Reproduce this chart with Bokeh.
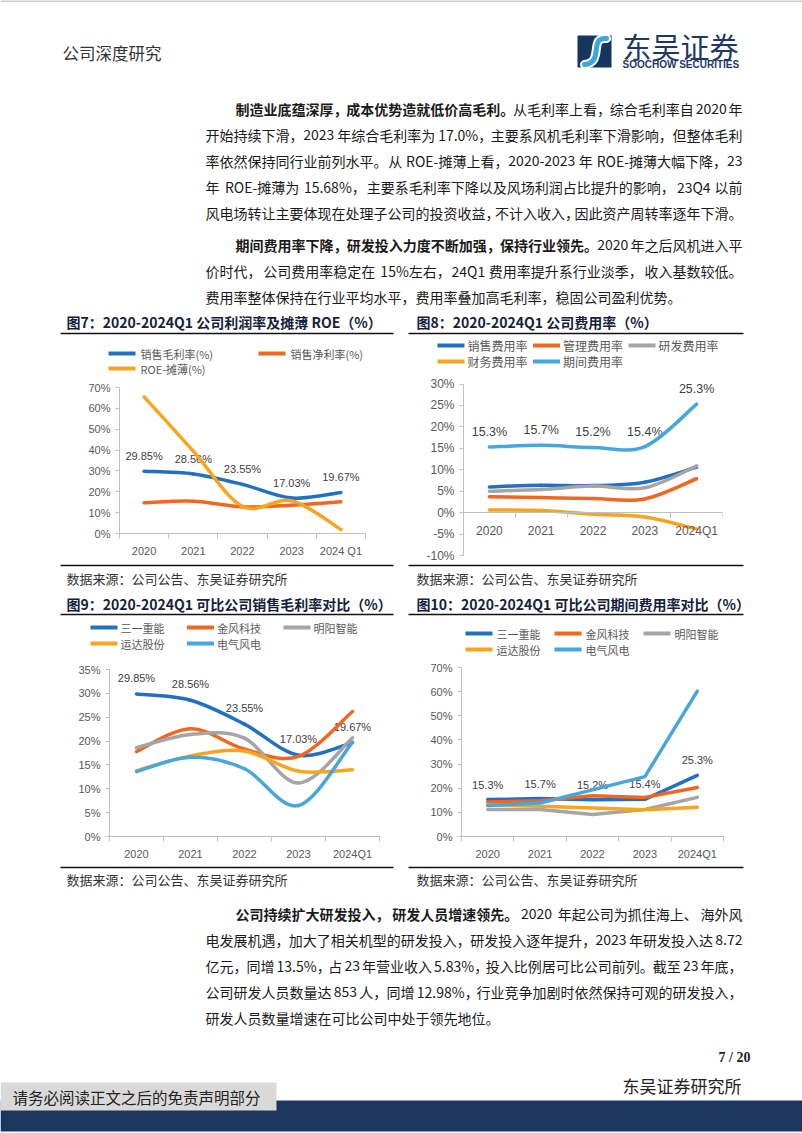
from bokeh.plotting import figure
from bokeh.layouts import column, row
from bokeh.models import Range1d, FixedTicker, PrintfTickFormatter, ColumnDataSource
from bokeh.core.properties import value
from bokeh.embed import file_html
from bokeh.resources import INLINE

CJK = "Noto Sans CJK SC"
SANS = "Liberation Sans"
SERIF = "Liberation Serif"

BLUE = "#2170c2"
ORANGE = "#f2661f"
GRAY = "#a5a5a5"
AMBER = "#f8a41c"
LBLUE = "#47a7dd"
AXIS = "#bfbfbf"
TICKC = "#595959"
NAVY = "#17365d"
TITLE_C = "#14213d"

# ------------------------------------------------------------------ data
years7 = ["2020", "2021", "2022", "2023", "2024 Q1"]
years = ["2020", "2021", "2022", "2023", "2024Q1"]

# Fig 7
fig7_names = ["销售毛利率(%)", "销售净利率(%)", "ROE-摊薄(%)"]
gross_margin = [29.85, 28.56, 23.55, 17.03, 19.67]
net_margin = [14.7, 15.5, 12.8, 13.6, 15.2]
roe_diluted = [65.5, 39.5, 13.0, 15.68, 1.9]
fig7_yticks = [0, 10, 20, 30, 40, 50, 60, 70]

# Fig 8
fig8_names = ["销售费用率", "管理费用率", "研发费用率", "财务费用率", "期间费用率"]
sales_exp = [6.0, 6.4, 6.3, 7.1, 10.6]
admin_exp = [3.7, 3.5, 3.3, 3.2, 7.9]
rd_exp = [5.0, 5.4, 6.2, 5.8, 10.9]
fin_exp = [0.6, 0.5, -0.4, -1.0, -3.8]
period_exp = [15.3, 15.7, 15.2, 15.4, 25.3]
fig8_yticks = [-10, -5, 0, 5, 10, 15, 20, 25, 30]

# Fig 9 / Fig 10
peers = ["三一重能", "金风科技", "明阳智能", "运达股份", "电气风电"]
gm_sany = [29.85, 28.56, 23.55, 17.03, 19.67]
gm_goldwind = [17.8, 22.6, 18.3, 16.8, 26.2]
gm_mingyang = [18.6, 21.4, 20.6, 11.2, 20.7]
gm_windey = [13.8, 16.9, 17.9, 13.7, 14.0]
gm_shanghai = [13.6, 16.6, 14.2, 6.5, 19.8]
fig9_yticks = [0, 5, 10, 15, 20, 25, 30, 35]

ex_sany = [15.3, 15.7, 15.2, 15.4, 25.3]
ex_goldwind = [14.3, 14.8, 16.9, 16.2, 20.3]
ex_mingyang = [11.2, 11.2, 9.1, 11.2, 16.2]
ex_windey = [13.2, 12.5, 11.8, 11.1, 12.1]
ex_shanghai = [12.8, 13.9, 19.3, 24.8, 60.2]
fig10_yticks = [0, 10, 20, 30, 40, 50, 60, 70]

PEER_COLORS = [BLUE, ORANGE, GRAY, AMBER, LBLUE]
FIG8_COLORS = [BLUE, ORANGE, GRAY, AMBER, LBLUE]
FIG7_COLORS = [BLUE, ORANGE, AMBER]

W = 802
H = 1133
SPLIT = 405


def no_align(p):
    try:
        p.frame_align = False
    except Exception:
        pass
    return p


# ------------------------------------------------------------------ text helpers
class TextBatch:
    def __init__(self):
        self.groups = {}

    def add(self, x, y, s, size, color="#1a1a1a", font=CJK, bold=False, align="left"):
        key = (font, size, color, bold, align)
        g = self.groups.setdefault(key, {"x": [], "y": [], "text": []})
        g["x"].append(x)
        g["y"].append(y)
        g["text"].append(s)

    def render(self, p):
        for (font, size, color, bold, align), g in self.groups.items():
            p.text(x="x", y="y", text="text", source=ColumnDataSource(g),
                   text_font=value(font), text_font_size=value(f"{size}px"),
                   text_color=color, text_font_style="bold" if bold else "normal",
                   text_align=align, text_baseline="middle")


def est_w(s, size):
    w = 0.0
    for ch in s:
        o = ord(ch)
        if o >= 0x2E80:
            w += 1.0
        elif ch.isdigit():
            w += 0.553
        elif ch == " ":
            w += 0.224
        elif ch in ".,":
            w += 0.27
        elif ch == "%":
            w += 0.84
        elif ch == "-":
            w += 0.34
        elif ch.isupper():
            w += 0.64
        else:
            w += 0.5
    return w * size


BREAKS = "，。、；： "


def para_line(tb, y, segs, x_start, justify, size=14, right=742):
    chunks = []
    for text, bold in segs:
        cur = ""
        for ch in text:
            cur += ch
            if ch in BREAKS:
                chunks.append((cur, bold))
                cur = ""
        if cur:
            chunks.append((cur, bold))
    chunks = [(c, b) for c, b in chunks if c.strip()]
    widths = [est_w(c, size) for c, _ in chunks]
    natural = sum(widths)
    n = len(chunks)
    gap = (right - x_start - natural) / (n - 1) if (justify and n > 1) else 0
    x = x_start
    for i, ((c, b), w) in enumerate(zip(chunks, widths)):
        c = c.rstrip(" ")
        if justify and n > 1 and i == n - 1:
            tb.add(right, y, c, size, bold=b, align="right")
        else:
            tb.add(x, y, c, size, bold=b)
        x += w + gap


def tfig(y0, y1, x0=0, x1=W):
    p = figure(width=x1 - x0, height=y1 - y0, x_range=Range1d(x0, x1), y_range=Range1d(y1, y0),
               output_backend="svg", toolbar_location=None, min_border=0,
               x_axis_location=None, y_axis_location=None)
    p.grid.visible = False
    p.outline_line_color = None
    return no_align(p)


def rule(p, x0, x1, y, w=1.5):
    p.segment(x0=[x0], y0=[y], x1=[x1], y1=[y], line_color="#111111", line_width=w)


def legend_fig(x0, x1, y0, y1, rows, fs, pitch, gap=4, gw=27):
    """Legend keys: a short line sample plus its label, laid out in rows."""
    lf = tfig(y0, y1, x0, x1)
    tb = TextBatch()
    seg = {"x0": [], "x1": [], "y": [], "c": []}
    for page_x, page_yc, entries in rows:
        for k, (label, color) in enumerate(entries):
            lx = page_x + k * pitch
            seg["x0"].append(lx)
            seg["x1"].append(lx + gw)
            seg["y"].append(page_yc)
            seg["c"].append(color)
            tb.add(lx + gw + gap, page_yc, label, fs, color=TICKC)
    lf.segment(x0="x0", y0="y", x1="x1", y1="y", line_color="c", line_width=4,
               source=ColumnDataSource(seg))
    tb.render(lf)
    return lf


# ------------------------------------------------------------------ chart helpers
def chart(x0, x1, y0, y1, fl, fr, ft, fb, cats, ylo, yhi, yticks, tick_fs, bounds, x_at_zero=False):
    n = len(cats)
    p = figure(width=x1 - x0, height=y1 - y0,
               x_range=Range1d(0, n), y_range=Range1d(ylo, yhi),
               output_backend="svg", toolbar_location=None,
               min_border_left=fl - x0, min_border_right=x1 - fr,
               min_border_top=ft - y0, min_border_bottom=y1 - fb)
    no_align(p)
    p.grid.visible = False
    p.outline_line_color = None
    xa = p.xaxis[0]
    ya = p.yaxis[0]
    xa.ticker = FixedTicker(ticks=[i + 0.5 for i in range(n)], minor_ticks=list(range(n + 1)))
    xa.major_label_overrides = {i + 0.5: c for i, c in enumerate(cats)}
    xa.major_tick_out = 0
    xa.major_tick_in = 0
    xa.minor_tick_out = 5
    xa.minor_tick_in = 0
    xa.axis_line_color = AXIS
    xa.minor_tick_line_color = AXIS
    xa.major_label_text_font = SANS
    xa.major_label_text_font_size = f"{tick_fs}px"
    xa.major_label_text_color = TICKC
    xa.major_label_standoff = 6
    if x_at_zero:
        xa.fixed_location = 0
    ya.ticker = FixedTicker(ticks=yticks)
    ya.formatter = PrintfTickFormatter(format="%d%%")
    ya.bounds = bounds
    ya.major_tick_out = 4
    ya.major_tick_in = 0
    ya.minor_tick_out = 0
    ya.minor_tick_in = 0
    ya.axis_line_color = AXIS
    ya.major_tick_line_color = AXIS
    ya.major_label_text_font = SANS
    ya.major_label_text_font_size = f"{tick_fs}px"
    ya.major_label_text_color = TICKC
    ya.major_label_standoff = 5
    return p


def smooth(p, vals, color, lw=3.5):
    n = len(vals)
    pts = [(i + 0.5, v) for i, v in enumerate(vals)]
    d = {k: [] for k in ("x0", "y0", "x1", "y1", "cx0", "cy0", "cx1", "cy1")}
    for i in range(n - 1):
        a = pts[max(i - 1, 0)]
        b = pts[i]
        c = pts[i + 1]
        e = pts[min(i + 2, n - 1)]
        d["x0"].append(b[0]); d["y0"].append(b[1])
        d["x1"].append(c[0]); d["y1"].append(c[1])
        d["cx0"].append(b[0] + (c[0] - a[0]) / 6); d["cy0"].append(b[1] + (c[1] - a[1]) / 6)
        d["cx1"].append(c[0] - (e[0] - b[0]) / 6); d["cy1"].append(c[1] - (e[1] - b[1]) / 6)
    return p.bezier(x0="x0", y0="y0", x1="x1", y1="y1", cx0="cx0", cy0="cy0", cx1="cx1", cy1="cy1",
                    source=ColumnDataSource(d), line_color=color, line_width=lw, line_cap="round")


def straight(p, vals, color, lw=3.5):
    xs = [i + 0.5 for i in range(len(vals))]
    return p.line(xs, vals, line_color=color, line_width=lw, line_join="round", line_cap="round")


def data_labels(p, vals, fmt, fs, off=15):
    xs = [i + 0.5 for i in range(len(vals))]
    p.text(x=xs, y=vals, text=[fmt % v for v in vals], text_font=value(SANS),
           text_font_size=value(f"{fs}px"), text_color="#404040", text_align="center",
           text_baseline="middle", y_offset=-off)


# ------------------------------------------------------------------ top text (page y 0..335)
top = tfig(0, 335)
tb = TextBatch()
top.segment(x0=[0], y0=[0.5], x1=[W], y1=[0.5], line_color="#9a9a9a", line_width=1)
tb.add(62, 52, "公司深度研究", 16.5, color="#333333")
# logo
top.quad(left=[577], right=[611], top=[35], bottom=[67], fill_color=NAVY, line_color=None)
top.bezier(x0=[606], y0=[38], x1=[584], y1=[64], cx0=[588], cy0=[36], cx1=[604], cy1=[62],
           line_color="white", line_width=9, line_cap="round")
top.bezier(x0=[606], y0=[38], x1=[584], y1=[64], cx0=[588], cy0=[36], cx1=[604], cy1=[62],
           line_color="#3ba6e0", line_width=5, line_cap="round")
tb.add(622, 45, "东吴证券", 29, color="#1f3864")
tb.add(622, 64, "SOOCHOW SECURITIES", 10, color="#1f3864", font=SANS, bold=True)

L = 205
IND = 235
p1 = [
    ([("制造业底蕴深厚，成本优势造就低价高毛利。", True), ("从毛利率上看，综合毛利率自 2020 年", False)], IND, True),
    ([("开始持续下滑，2023 年综合毛利率为 17.0%，主要系风机毛利率下滑影响，但整体毛利", False)], L, True),
    ([("率依然保持同行业前列水平。从 ROE-摊薄上看，2020-2023 年 ROE-摊薄大幅下降，23", False)], L, True),
    ([("年 ROE-摊薄为 15.68%，主要系毛利率下降以及风场利润占比提升的影响，23Q4 以前", False)], L, True),
    ([("风电场转让主要体现在处理子公司的投资收益，不计入收入，因此资产周转率逐年下滑。", False)], L, True),
]
for (segs, x0, j), y in zip(p1, [108, 134, 160, 186, 212]):
    para_line(tb, y, segs, x0, j)
p2 = [
    ([("期间费用率下降，研发投入力度不断加强，保持行业领先。", True), ("2020 年之后风机进入平", False)], IND, True),
    ([("价时代，公司费用率稳定在 15%左右，24Q1 费用率提升系行业淡季，收入基数较低。", False)], L, True),
    ([("费用率整体保持在行业平均水平，费用率叠加高毛利率，稳固公司盈利优势。", False)], L, False),
]
for (segs, x0, j), y in zip(p2, [244, 270, 296]):
    para_line(tb, y, segs, x0, j)

tb.add(66, 321, "图7：2020-2024Q1 公司利润率及摊薄 ROE（%）", 14, color=TITLE_C, bold=True)
tb.add(416, 321, "图8：2020-2024Q1 公司费用率（%）", 14, color=TITLE_C, bold=True)
rule(top, 60, 393, 333)
rule(top, 408, 743, 333)
tb.render(top)

# ------------------------------------------------------------------ legends for charts 7 / 8 (y 335..376)
LEG1 = (335, 376)
leg7 = legend_fig(0, SPLIT, LEG1[0], LEG1[1],
                  [(108, 353, [(fig7_names[0], FIG7_COLORS[0]), (fig7_names[1], FIG7_COLORS[1])]),
                   (108, 368, [(fig7_names[2], FIG7_COLORS[2])])], 11, 150, gap=5)
leg8 = legend_fig(SPLIT, W, LEG1[0], LEG1[1],
                  [(437, 345, [(fig8_names[i], FIG8_COLORS[i]) for i in range(3)]),
                   (437, 361, [(fig8_names[i], FIG8_COLORS[i]) for i in range(3, 5)])], 12, 95.5, gap=3)

# ------------------------------------------------------------------ charts 7 / 8 (y 376..562)
c7 = chart(0, SPLIT, LEG1[1], 562, 119, 365, 387, 533, years7, 0, 70, fig7_yticks, 11, (0, 70))
data_labels(c7, gross_margin, "%.2f%%", 11)
for vals, col in zip([gross_margin, net_margin, roe_diluted], FIG7_COLORS):
    smooth(c7, vals, col)

c8 = chart(SPLIT, W, LEG1[1], 562, 463, 722, 376, 555, years, -10, 31.75, fig8_yticks, 12, (-10, 30),
           x_at_zero=True)
data_labels(c8, period_exp, "%.1f%%", 12.5)
for vals, col in zip([sales_exp, admin_exp, rd_exp, fin_exp, period_exp], FIG8_COLORS):
    smooth(c8, vals, col)

# ------------------------------------------------------------------ middle text (page y 562..617)
mid = tfig(562, 617)
tb = TextBatch()
rule(mid, 60, 393, 565)
rule(mid, 408, 743, 565)
tb.add(66, 578, "数据来源：公司公告、东吴证券研究所", 13, color="#333333")
tb.add(416, 578, "数据来源：公司公告、东吴证券研究所", 13, color="#333333")
tb.add(66, 603, "图9：2020-2024Q1 可比公司销售毛利率对比（%）", 14, color=TITLE_C, bold=True)
tb.add(416, 603, "图10：2020-2024Q1 可比公司期间费用率对比（%）", 14, color=TITLE_C, bold=True)
rule(mid, 60, 393, 614)
rule(mid, 408, 743, 614)
tb.render(mid)

# ------------------------------------------------------------------ legends for charts 9 / 10 (y 617..659)
LEG2 = (617, 659)
leg9 = legend_fig(0, SPLIT, LEG2[0], LEG2[1],
                  [(90, 627, [(peers[i], PEER_COLORS[i]) for i in range(3)]),
                   (90, 643, [(peers[i], PEER_COLORS[i]) for i in range(3, 5)])], 11, 96.5, gap=3)
leg10 = legend_fig(SPLIT, W, LEG2[0], LEG2[1],
                   [(465, 633, [(peers[i], PEER_COLORS[i]) for i in range(3)]),
                    (465, 649, [(peers[i], PEER_COLORS[i]) for i in range(3, 5)])], 11, 89, gap=4)

# ------------------------------------------------------------------ charts 9 / 10 (y 659..862)
c9 = chart(0, SPLIT, LEG2[1], 862, 109, 379, 669, 836, years, 0, 35, fig9_yticks, 11, (0, 35))
data_labels(c9, gm_sany, "%.2f%%", 11, off=16)
for vals, col in zip([gm_sany, gm_goldwind, gm_mingyang, gm_windey, gm_shanghai], PEER_COLORS):
    smooth(c9, vals, col)

c10 = chart(SPLIT, W, LEG2[1], 862, 461, 723, 667, 837, years, 0, 70, fig10_yticks, 11, (0, 70))
data_labels(c10, ex_sany, "%.1f%%", 11)
for vals, col in zip([ex_sany, ex_goldwind, ex_mingyang, ex_windey, ex_shanghai], PEER_COLORS):
    straight(c10, vals, col)

# ------------------------------------------------------------------ bottom text (page y 862..1133)
bot = tfig(862, H)
tb = TextBatch()
rule(bot, 60, 393, 867)
rule(bot, 408, 743, 867)
tb.add(66, 879, "数据来源：公司公告、东吴证券研究所", 13, color="#333333")
tb.add(416, 879, "数据来源：公司公告、东吴证券研究所", 13, color="#333333")
p3 = [
    ([("公司持续扩大研发投入，研发人员增速领先。", True), ("2020 年起公司为抓住海上、海外风", False)], IND, True),
    ([("电发展机遇，加大了相关机型的研发投入，研发投入逐年提升，2023 年研发投入达 8.72", False)], L, True),
    ([("亿元，同增 13.5%，占 23 年营业收入 5.83%，投入比例居可比公司前列。截至 23 年底，", False)], L, True),
    ([("公司研发人员数量达 853 人，同增 12.98%，行业竞争加剧时依然保持可观的研发投入，", False)], L, True),
    ([("研发人员数量增速在可比公司中处于领先地位。", False)], L, False),
]
for (segs, x0, j), y in zip(p3, [913, 939, 965, 991, 1017]):
    para_line(tb, y, segs, x0, j)
tb.add(750, 1057, "7 / 20", 14, color="#222222", font=SERIF, bold=True, align="right")
tb.add(622, 1085, "东吴证券研究所", 17, color="#222222")
bot.quad(left=[0], right=[W], top=[1100], bottom=[1131], fill_color="#1b375f", line_color=None)
bot.quad(left=[0], right=[276], top=[1082], bottom=[1110], fill_color="#d9d9d9", line_color=None)
tb.add(12, 1096, "请务必阅读正文之后的免责声明部分", 15.5, color="#222222")
tb.render(bot)

page = column(top,
              row(leg7, leg8),
              row(c7, c8),
              mid,
              row(leg9, leg10),
              row(c9, c10),
              bot)
open("out.html", "w").write(file_html(page, INLINE))
